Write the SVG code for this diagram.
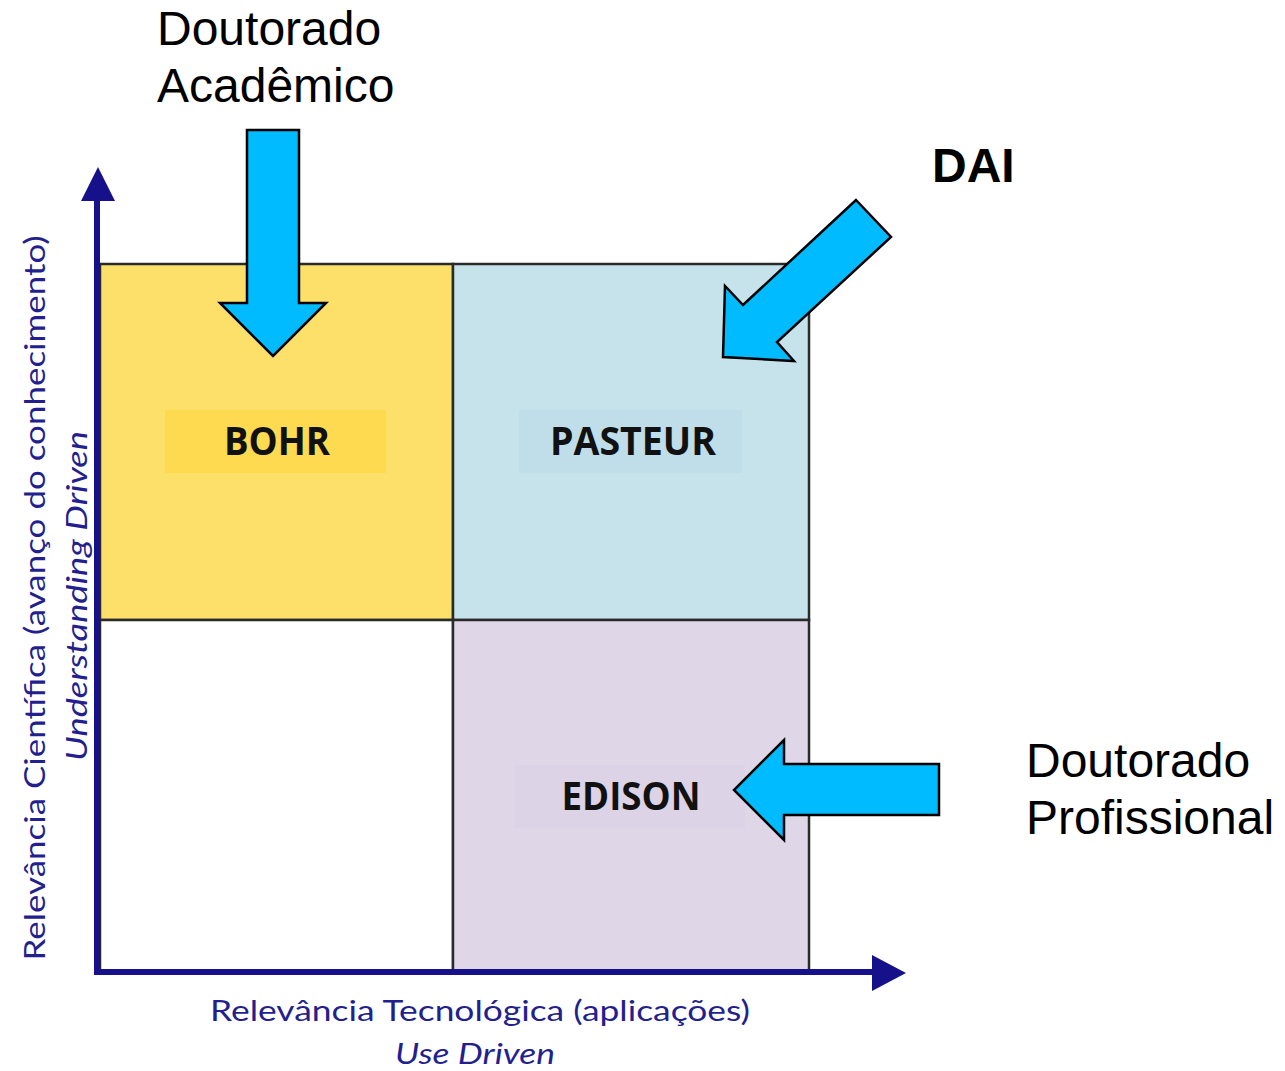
<svg xmlns="http://www.w3.org/2000/svg" width="1285" height="1071" viewBox="0 0 1285 1071">
<style>
.q{stroke:#2a2a2a;stroke-width:2.5}
.lab{font-family:"Open Sans","DejaVu Sans",sans-serif;font-weight:bold;font-size:40px;fill:#111;text-anchor:middle}
.ax{font-family:Lato,"Open Sans",sans-serif;font-size:28px;fill:#231f8f;text-anchor:middle}
.it{font-style:italic}
.big{font-family:"Liberation Sans",Arial,sans-serif;font-size:48px;fill:#000}
.arr{fill:#00BBFF;stroke:#000;stroke-width:2.5;stroke-linejoin:miter}
.axis{stroke:#16108a;stroke-width:6;fill:none}
.axh{fill:#16108a}
</style>
<g id="quadrants">
<g id="bohr">
<rect class="q" x="100" y="264" width="353" height="356" fill="#FCE06A"/>
<rect x="165" y="410" width="221" height="63" fill="#FDDA50"/>
<text class="lab" x="277" y="455" textLength="106" lengthAdjust="spacingAndGlyphs">BOHR</text>
</g>
<g id="pasteur">
<rect class="q" x="453" y="264" width="356" height="356" fill="#C6E3EC"/>
<rect x="519" y="410" width="223" height="63" fill="#BFDEE9"/>
<text class="lab" x="633" y="455" textLength="166" lengthAdjust="spacingAndGlyphs">PASTEUR</text>
</g>
<g id="empty">
<rect class="q" x="100" y="620" width="353" height="352" fill="#FFFFFF"/>
</g>
<g id="edison">
<rect class="q" x="453" y="620" width="356" height="352" fill="#DFD7E8"/>
<rect x="515" y="765" width="230" height="63" fill="#DCD4E6"/>
<text class="lab" x="631" y="810" textLength="139" lengthAdjust="spacingAndGlyphs">EDISON</text>
</g>
</g>
<g id="axes">
<path class="axis" d="M97,975 V195"/>
<polygon class="axh" points="98,167 115,201 81,201"/>
<path class="axis" d="M94,972 H876"/>
<polygon class="axh" points="906,973 872,955 872,991"/>
<text class="ax" transform="translate(45,598) rotate(-90)" textLength="725" lengthAdjust="spacingAndGlyphs">Relevância Científica (avanço do conhecimento)</text>
<text class="ax it" transform="translate(87,596) rotate(-90)" textLength="330" lengthAdjust="spacingAndGlyphs">Understanding Driven</text>
<text class="ax" x="480" y="1021" textLength="540" lengthAdjust="spacingAndGlyphs">Relevância Tecnológica (aplicações)</text>
<text class="ax it" x="475" y="1064" textLength="160" lengthAdjust="spacingAndGlyphs">Use Driven</text>
</g>
<g id="connectors">
<polygon class="arr" points="247,130 299,130 299,303 326,303 273,356 220,303 247,303"/>
<polygon class="arr" points="856,200 891,237 777,342 794,361 723,357 725,286 743,305"/>
<polygon class="arr" points="939,764 939,815 784,815 784,840 734,790 784,740 784,764"/>
</g>
<g id="academico">
<text class="big" x="157" y="45">Doutorado</text>
<text class="big" x="157" y="102">Acadêmico</text>
</g>
<g id="dai">
<text class="big" x="932" y="182" font-weight="bold" font-size="46">DAI</text>
</g>
<g id="profissional">
<text class="big" x="1026" y="777">Doutorado</text>
<text class="big" x="1026" y="834">Profissional</text>
</g>
</svg>
